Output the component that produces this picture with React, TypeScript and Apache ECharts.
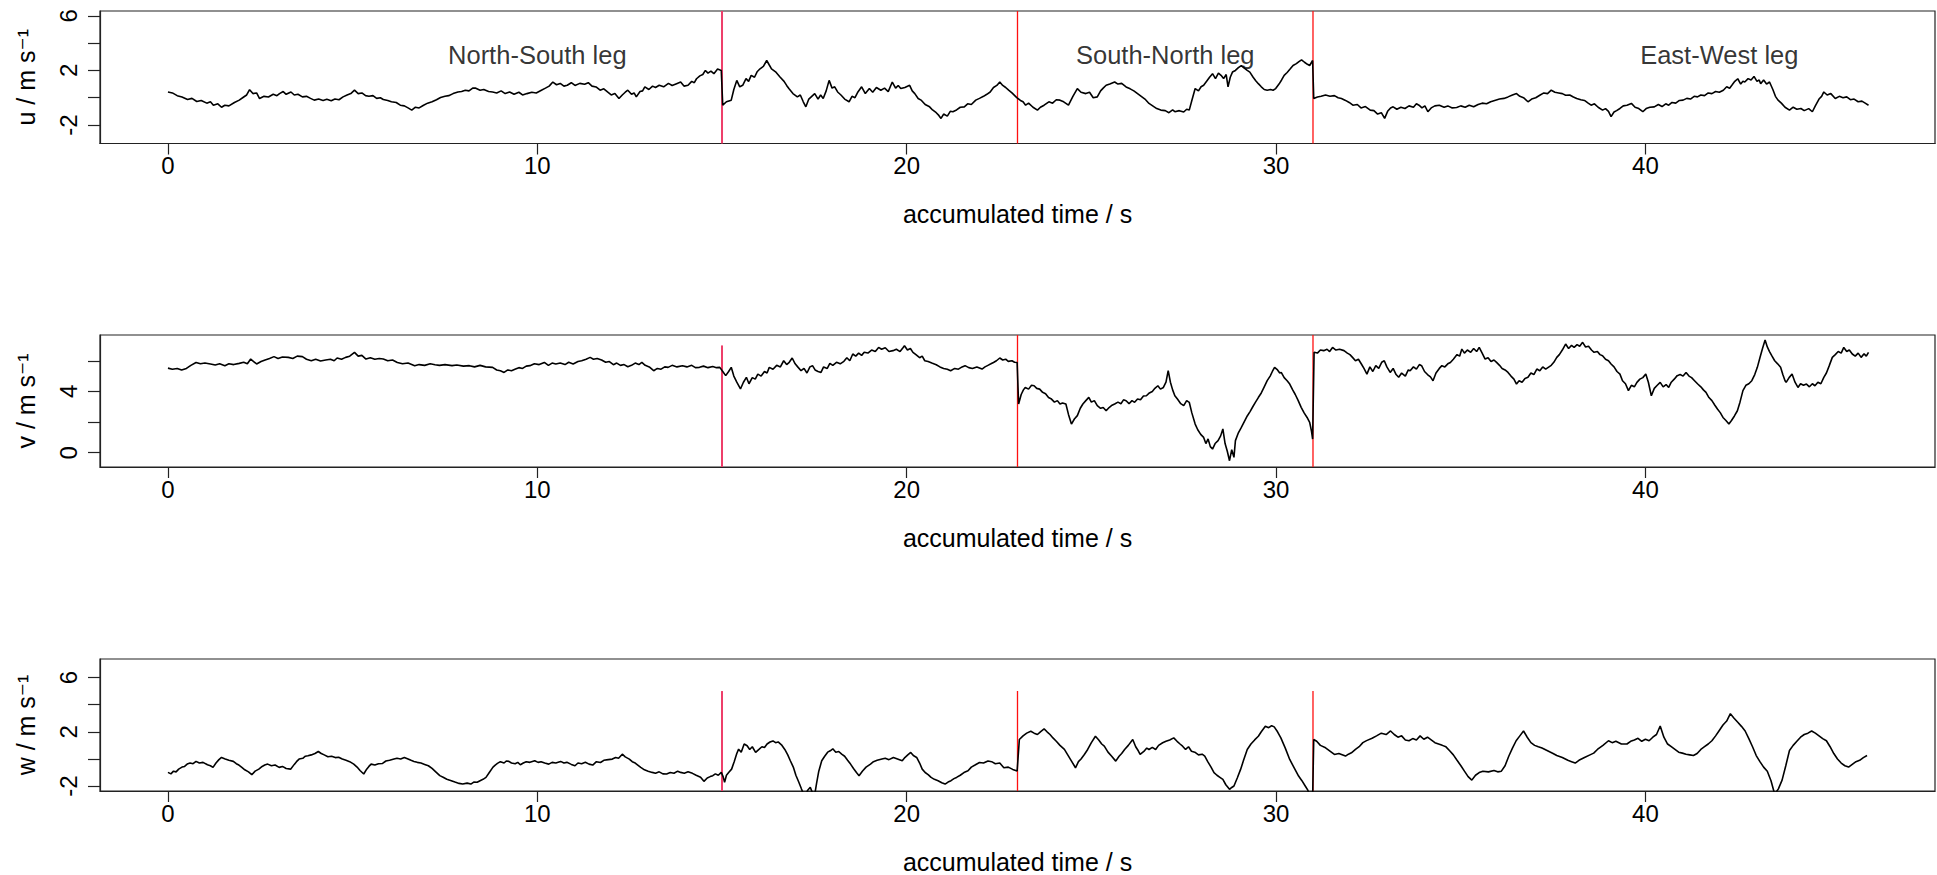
import React, { useEffect, useRef } from "react";
import * as echarts from "echarts";

// ---- data ----
const legBoundaries = [15, 23, 31];
const legNames = ["North-South leg", "South-North leg", "East-West leg"];
const legLabelX = [10, 27, 42];
const legLabelY = 3.15;

const xTicks = [0, 10, 20, 30, 40];
const uTicks = [-2, 0, 2, 4, 6];
const uTickLabels = [-2, 2, 6];
const vTicks = [0, 2, 4, 6];
const vTickLabels = [0, 4];
const wTicks = [-2, 0, 2, 4, 6];
const wTickLabels = [-2, 2, 6];

// [accumulated time (s), u (m/s)]
const uSeries: number[][] = [[0,0.42],[0.12,0.35],[0.25,0.15],[0.38,0.05],[0.53,-0.13],[0.65,-0.05],[0.78,-0.28],[0.9,-0.2],[1.05,-0.4],[1.15,-0.3],[1.23,-0.55],[1.35,-0.45],[1.45,-0.7],[1.54,-0.55],[1.65,-0.6],[1.8,-0.35],[1.93,-0.18],[2.05,0.05],[2.13,0.2],[2.21,0.59],[2.3,0.3],[2.4,0.35],[2.48,-0.06],[2.6,0.1],[2.72,0.05],[2.85,0.25],[2.95,0.15],[3.02,0.3],[3.12,0.45],[3.2,0.25],[3.33,0.42],[3.42,0.2],[3.52,0.25],[3.64,0.06],[3.75,0.1],[3.86,-0.05],[3.96,-0.18],[4.08,-0.1],[4.2,-0.2],[4.3,-0.12],[4.42,-0.23],[4.52,-0.1],[4.63,-0.15],[4.74,0.06],[4.85,0.2],[4.95,0.3],[5.05,0.55],[5.15,0.3],[5.25,0.35],[5.35,0.15],[5.44,0.11],[5.55,0.15],[5.65,-0.05],[5.75,0.0],[5.83,-0.13],[5.95,-0.2],[6.05,-0.3],[6.18,-0.35],[6.29,-0.55],[6.4,-0.6],[6.5,-0.75],[6.6,-0.91],[6.7,-0.7],[6.8,-0.75],[6.92,-0.55],[7.03,-0.4],[7.15,-0.3],[7.27,-0.15],[7.38,0.01],[7.5,0.1],[7.6,0.15],[7.72,0.3],[7.85,0.42],[7.95,0.45],[8.05,0.55],[8.15,0.5],[8.25,0.7],[8.32,0.71],[8.45,0.55],[8.55,0.6],[8.68,0.45],[8.79,0.42],[8.9,0.35],[9.02,0.5],[9.13,0.3],[9.25,0.42],[9.37,0.25],[9.5,0.4],[9.6,0.2],[9.72,0.3],[9.85,0.4],[9.97,0.35],[10.11,0.55],[10.22,0.7],[10.32,0.85],[10.42,1.15],[10.52,0.95],[10.62,1.05],[10.72,0.85],[10.81,0.91],[10.92,1.1],[11.02,0.9],[11.15,1.05],[11.28,0.98],[11.38,1.1],[11.48,0.85],[11.59,0.79],[11.7,0.55],[11.8,0.65],[11.9,0.42],[12.0,0.2],[12.1,0.3],[12.21,-0.06],[12.3,0.2],[12.38,0.4],[12.45,0.55],[12.55,0.25],[12.62,0.35],[12.68,0.06],[12.78,0.45],[12.85,0.5],[12.91,0.79],[13.02,0.6],[13.12,0.85],[13.2,0.75],[13.3,0.91],[13.42,0.8],[13.55,1.05],[13.65,0.9],[13.77,1.03],[13.88,1.15],[13.97,0.85],[14.08,0.91],[14.18,1.2],[14.25,1.1],[14.31,1.39],[14.4,1.6],[14.48,1.7],[14.55,2.0],[14.62,1.8],[14.7,1.95],[14.78,1.76],[14.88,2.1],[14.98,2.0],
[15.02,-0.55],[15.12,-0.3],[15.25,-0.18],[15.32,0.6],[15.4,1.27],[15.48,0.8],[15.56,0.91],[15.65,1.4],[15.72,1.2],[15.79,1.64],[15.88,1.5],[15.95,1.9],[16.03,2.12],[16.12,2.3],[16.21,2.73],[16.28,2.4],[16.34,2.12],[16.45,1.9],[16.57,1.52],[16.68,1.2],[16.75,0.9],[16.81,0.67],[16.92,0.3],[17.04,0.06],[17.12,0.2],[17.2,-0.3],[17.27,-0.67],[17.35,-0.1],[17.43,0.1],[17.51,0.3],[17.6,-0.1],[17.67,0.2],[17.74,-0.06],[17.82,0.5],[17.9,1.27],[17.98,0.7],[18.05,0.8],[18.13,0.42],[18.22,0.2],[18.32,-0.1],[18.44,-0.3],[18.52,0.1],[18.6,0.0],[18.68,0.42],[18.78,0.8],[18.88,0.3],[18.99,0.67],[19.08,0.4],[19.18,0.75],[19.3,0.55],[19.4,0.7],[19.5,0.45],[19.61,1.15],[19.7,0.7],[19.77,0.9],[19.84,0.67],[19.95,0.75],[20.08,0.91],[20.15,0.5],[20.22,0.3],[20.31,-0.06],[20.4,-0.2],[20.5,-0.5],[20.62,-0.67],[20.7,-0.9],[20.8,-1.1],[20.87,-1.3],[20.93,-1.52],[21.0,-1.2],[21.1,-1.35],[21.18,-1.0],[21.25,-1.03],[21.35,-0.9],[21.45,-0.7],[21.56,-0.67],[21.65,-0.45],[21.75,-0.5],[21.87,-0.18],[21.97,-0.05],[22.08,0.1],[22.17,0.25],[22.26,0.42],[22.35,0.75],[22.44,0.9],[22.52,1.15],[22.6,0.9],[22.68,0.75],[22.76,0.55],[22.85,0.35],[22.98,0.01],
[23.08,-0.2],[23.15,-0.3],[23.22,-0.55],[23.3,-0.4],[23.42,-0.7],[23.54,-0.91],[23.62,-0.7],[23.72,-0.55],[23.85,-0.3],[23.95,-0.4],[24.05,-0.15],[24.15,-0.18],[24.25,-0.3],[24.38,-0.55],[24.5,0.1],[24.62,0.67],[24.72,0.4],[24.85,0.3],[24.95,0.4],[25.05,0.0],[25.16,0.06],[25.25,0.5],[25.32,0.7],[25.4,0.91],[25.5,1.0],[25.63,1.15],[25.72,1.0],[25.82,1.05],[25.94,0.79],[26.05,0.65],[26.15,0.5],[26.25,0.3],[26.35,0.1],[26.45,-0.1],[26.56,-0.42],[26.66,-0.6],[26.77,-0.8],[26.88,-0.91],[27.0,-0.95],[27.1,-1.1],[27.2,-0.9],[27.26,-1.03],[27.38,-0.95],[27.5,-1.05],[27.58,-0.85],[27.65,-0.91],[27.72,-0.2],[27.81,0.67],[27.9,0.5],[27.97,0.8],[28.04,0.91],[28.12,1.2],[28.2,1.5],[28.28,1.76],[28.36,1.4],[28.44,1.8],[28.51,1.64],[28.58,1.4],[28.65,1.7],[28.7,0.79],[28.76,1.5],[28.82,1.88],[28.9,2.0],[28.98,2.2],[29.06,2.36],[29.15,2.15],[29.22,2.0],[29.29,1.88],[29.38,1.5],[29.45,1.25],[29.52,1.03],[29.6,0.8],[29.68,0.6],[29.76,0.55],[29.85,0.6],[29.92,0.55],[29.99,0.67],[30.08,1.0],[30.15,1.3],[30.22,1.64],[30.3,1.85],[30.38,2.1],[30.46,2.36],[30.55,2.5],[30.62,2.65],[30.69,2.78],[30.77,2.6],[30.85,2.45],[30.91,2.36],[30.99,2.73],
[31.02,-0.06],[31.12,0.05],[31.22,0.1],[31.34,0.2],[31.46,0.11],[31.58,0.15],[31.68,0.0],[31.77,-0.06],[31.88,-0.2],[31.98,-0.35],[32.08,-0.55],[32.2,-0.5],[32.3,-0.75],[32.42,-0.65],[32.55,-0.91],[32.65,-0.95],[32.75,-1.2],[32.85,-1.1],[32.94,-1.52],[33.02,-1.0],[33.1,-0.75],[33.17,-0.67],[33.27,-0.85],[33.38,-0.7],[33.49,-0.79],[33.6,-0.6],[33.72,-0.7],[33.8,-0.45],[33.87,-0.55],[33.95,-0.75],[34.03,-0.6],[34.11,-1.03],[34.2,-0.75],[34.3,-0.6],[34.42,-0.55],[34.55,-0.7],[34.65,-0.6],[34.77,-0.75],[34.89,-0.72],[35.0,-0.6],[35.12,-0.7],[35.23,-0.55],[35.35,-0.67],[35.47,-0.5],[35.58,-0.4],[35.7,-0.45],[35.81,-0.3],[35.92,-0.2],[36.05,-0.1],[36.17,-0.05],[36.28,0.06],[36.4,0.2],[36.51,0.3],[36.6,0.1],[36.7,0.0],[36.82,-0.3],[36.92,-0.1],[37.03,0.0],[37.14,0.18],[37.25,0.35],[37.35,0.3],[37.45,0.55],[37.55,0.4],[37.65,0.35],[37.75,0.3],[37.84,0.18],[37.95,0.2],[38.05,0.05],[38.14,-0.06],[38.25,-0.15],[38.35,-0.2],[38.45,-0.4],[38.53,-0.55],[38.62,-0.45],[38.72,-0.7],[38.84,-0.91],[38.92,-0.8],[39.0,-1.0],[39.07,-1.39],[39.15,-1.05],[39.22,-0.95],[39.31,-0.79],[39.4,-0.6],[39.5,-0.55],[39.62,-0.42],[39.72,-0.7],[39.82,-0.8],[39.93,-1.03],[40.02,-0.8],[40.12,-0.7],[40.24,-0.67],[40.35,-0.5],[40.45,-0.65],[40.55,-0.45],[40.63,-0.55],[40.72,-0.35],[40.82,-0.4],[40.92,-0.2],[41.02,-0.18],[41.12,-0.05],[41.22,-0.1],[41.32,0.1],[41.41,0.06],[41.5,0.2],[41.6,0.15],[41.7,0.35],[41.8,0.3],[41.9,0.45],[42.0,0.4],[42.11,0.55],[42.2,0.8],[42.28,0.7],[42.34,0.91],[42.42,1.2],[42.5,1.39],[42.58,1.0],[42.64,1.2],[42.69,1.15],[42.78,1.4],[42.86,1.3],[42.94,1.56],[43.02,1.2],[43.08,1.3],[43.12,1.03],[43.2,1.3],[43.28,1.0],[43.36,1.15],[43.45,0.6],[43.52,0.1],[43.59,-0.18],[43.68,-0.4],[43.78,-0.7],[43.9,-0.91],[44.0,-0.7],[44.1,-0.85],[44.21,-0.79],[44.3,-0.95],[44.42,-0.8],[44.52,-1.03],[44.6,-0.6],[44.7,-0.1],[44.77,0.1],[44.83,0.42],[44.92,0.2],[45.02,0.3],[45.14,-0.06],[45.25,0.1],[45.35,0.0],[45.45,0.06],[45.55,-0.15],[45.65,-0.1],[45.76,-0.3],[45.86,-0.25],[45.95,-0.4],[46.04,-0.55]];

// [accumulated time (s), v (m/s)]
const vSeries: number[][] = [[0,5.52],[0.12,5.45],[0.25,5.5],[0.37,5.39],[0.5,5.5],[0.62,5.7],[0.76,5.89],[0.88,5.8],[1.0,5.85],[1.15,5.79],[1.28,5.72],[1.4,5.8],[1.54,5.68],[1.65,5.8],[1.78,5.75],[1.93,5.83],[2.05,5.9],[2.15,5.8],[2.24,6.11],[2.32,5.95],[2.4,5.79],[2.52,5.95],[2.63,6.05],[2.75,6.15],[2.87,6.27],[2.98,6.15],[3.1,6.25],[3.26,6.22],[3.38,6.15],[3.5,6.3],[3.64,6.27],[3.75,6.1],[3.88,6.0],[4.0,6.1],[4.13,5.98],[4.27,6.05],[4.4,6.1],[4.5,6.0],[4.58,6.18],[4.7,6.1],[4.81,6.22],[4.92,6.3],[5.05,6.55],[5.15,6.3],[5.25,6.35],[5.36,6.11],[5.48,6.2],[5.6,6.1],[5.72,6.15],[5.83,6.11],[5.95,6.0],[6.08,6.05],[6.21,5.89],[6.35,5.8],[6.5,5.85],[6.68,5.68],[6.8,5.75],[6.95,5.7],[7.1,5.8],[7.23,5.74],[7.35,5.7],[7.5,5.75],[7.69,5.68],[7.82,5.72],[8.0,5.65],[8.16,5.68],[8.3,5.6],[8.45,5.7],[8.6,5.6],[8.79,5.57],[8.9,5.4],[9.0,5.35],[9.1,5.24],[9.2,5.4],[9.3,5.35],[9.41,5.46],[9.5,5.55],[9.6,5.5],[9.7,5.65],[9.8,5.68],[9.92,5.8],[10.05,5.75],[10.19,5.89],[10.3,5.7],[10.4,5.85],[10.5,5.79],[10.62,5.85],[10.75,5.75],[10.85,5.9],[10.97,5.79],[11.1,5.95],[11.2,6.0],[11.32,6.1],[11.43,6.22],[11.52,6.1],[11.62,6.15],[11.74,6.05],[11.85,5.9],[11.95,5.95],[12.06,5.74],[12.15,5.85],[12.25,5.7],[12.35,5.75],[12.45,5.61],[12.55,5.7],[12.65,5.85],[12.75,5.75],[12.83,5.89],[12.92,5.7],[13.03,5.6],[13.15,5.35],[13.25,5.5],[13.35,5.45],[13.45,5.6],[13.54,5.57],[13.65,5.7],[13.78,5.6],[13.93,5.68],[14.05,5.6],[14.18,5.7],[14.28,5.55],[14.39,5.57],[14.5,5.65],[14.62,5.55],[14.75,5.62],[14.85,5.55],[14.94,5.57],
[15.02,5.3],[15.1,5.03],[15.18,5.3],[15.25,5.57],[15.32,5.0],[15.4,4.6],[15.5,4.16],[15.58,4.6],[15.66,4.92],[15.73,4.5],[15.82,4.9],[15.9,4.8],[15.97,5.13],[16.06,5.0],[16.15,5.3],[16.22,5.2],[16.28,5.57],[16.38,5.45],[16.48,5.7],[16.58,5.6],[16.67,6.0],[16.75,5.75],[16.82,5.9],[16.9,6.18],[16.98,5.8],[17.05,5.6],[17.14,5.35],[17.22,5.5],[17.3,5.2],[17.38,5.6],[17.45,5.68],[17.52,5.4],[17.6,5.3],[17.68,5.24],[17.75,5.6],[17.85,5.5],[17.92,5.83],[18.0,5.7],[18.1,5.9],[18.2,5.8],[18.3,5.96],[18.38,6.2],[18.46,6.0],[18.54,6.44],[18.62,6.3],[18.7,6.5],[18.78,6.35],[18.85,6.55],[18.95,6.5],[19.05,6.7],[19.15,6.6],[19.24,6.87],[19.32,6.75],[19.42,6.85],[19.52,6.6],[19.63,6.66],[19.72,6.75],[19.82,6.6],[19.9,6.85],[19.94,6.98],[20.02,6.7],[20.1,6.8],[20.17,6.55],[20.25,6.4],[20.35,6.2],[20.42,6.3],[20.49,6.0],[20.58,5.95],[20.68,5.85],[20.8,5.74],[20.9,5.6],[21.0,5.5],[21.1,5.45],[21.19,5.35],[21.3,5.5],[21.4,5.45],[21.5,5.6],[21.58,5.68],[21.68,5.55],[21.78,5.5],[21.9,5.6],[22.04,5.46],[22.12,5.6],[22.2,5.7],[22.28,5.8],[22.35,5.89],[22.43,6.0],[22.52,6.18],[22.6,6.05],[22.68,6.1],[22.75,5.96],[22.85,6.0],[22.92,5.9],[22.99,5.89],
[23.03,3.18],[23.1,3.8],[23.16,4.1],[23.21,4.26],[23.3,4.15],[23.38,4.4],[23.45,4.37],[23.52,4.2],[23.6,4.15],[23.68,3.94],[23.76,3.85],[23.84,3.6],[23.92,3.5],[24.0,3.3],[24.08,3.4],[24.15,3.18],[24.22,3.25],[24.31,3.18],[24.38,2.5],[24.46,1.87],[24.54,2.2],[24.62,2.42],[24.7,2.9],[24.77,3.18],[24.85,3.4],[24.93,3.61],[25.0,3.3],[25.08,3.4],[25.16,3.07],[25.25,2.9],[25.32,2.95],[25.4,2.74],[25.48,2.95],[25.56,3.1],[25.63,3.18],[25.72,3.3],[25.8,3.2],[25.87,3.45],[25.94,3.39],[26.02,3.2],[26.1,3.4],[26.17,3.29],[26.25,3.5],[26.33,3.45],[26.41,3.7],[26.49,3.72],[26.57,3.9],[26.65,4.0],[26.72,4.2],[26.8,4.37],[26.87,4.15],[26.95,4.26],[27.02,4.6],[27.08,5.35],[27.14,4.6],[27.2,4.1],[27.26,3.72],[27.33,3.5],[27.42,3.2],[27.5,3.07],[27.58,3.4],[27.65,3.29],[27.72,2.6],[27.81,1.87],[27.88,1.5],[27.96,1.2],[28.04,1.0],[28.1,0.6],[28.16,0.9],[28.22,0.4],[28.28,0.24],[28.35,0.6],[28.43,0.79],[28.5,1.1],[28.56,1.55],[28.62,0.6],[28.68,0.1],[28.74,-0.52],[28.8,0.2],[28.86,-0.3],[28.9,0.79],[28.98,1.3],[29.05,1.6],[29.13,1.98],[29.22,2.4],[29.3,2.7],[29.37,3.0],[29.44,3.29],[29.52,3.6],[29.6,3.9],[29.68,4.3],[29.76,4.7],[29.84,5.0],[29.9,5.3],[29.96,5.57],[30.04,5.4],[30.1,5.2],[30.14,5.24],[30.22,4.9],[30.3,4.7],[30.37,4.48],[30.45,4.1],[30.52,3.8],[30.6,3.4],[30.68,2.96],[30.76,2.6],[30.84,2.3],[30.91,1.98],[30.96,1.4],[30.99,0.89],
[31.03,6.55],[31.12,6.5],[31.2,6.7],[31.29,6.66],[31.38,6.75],[31.45,6.6],[31.53,6.87],[31.62,6.7],[31.72,6.75],[31.84,6.66],[31.93,6.5],[32.0,6.4],[32.07,6.22],[32.15,6.0],[32.23,6.1],[32.31,5.79],[32.38,5.5],[32.46,5.13],[32.54,5.6],[32.62,5.3],[32.7,5.68],[32.78,5.5],[32.86,5.9],[32.93,6.0],[33.0,5.6],[33.09,5.24],[33.17,5.5],[33.25,5.1],[33.32,4.92],[33.4,5.2],[33.5,5.0],[33.58,5.4],[33.63,5.35],[33.72,5.6],[33.8,5.45],[33.88,5.75],[33.94,5.68],[34.02,5.3],[34.1,5.1],[34.18,4.95],[34.25,4.7],[34.33,5.2],[34.42,5.5],[34.49,5.68],[34.57,5.6],[34.65,5.8],[34.72,5.89],[34.8,6.1],[34.9,6.4],[34.97,6.3],[35.03,6.76],[35.1,6.5],[35.18,6.7],[35.27,6.55],[35.35,6.8],[35.43,6.6],[35.5,6.87],[35.58,6.5],[35.66,6.11],[35.74,6.2],[35.82,5.95],[35.9,6.05],[35.97,5.89],[36.05,5.7],[36.12,5.5],[36.2,5.4],[36.28,5.24],[36.36,5.0],[36.44,4.8],[36.51,4.48],[36.58,4.7],[36.66,4.6],[36.74,4.85],[36.82,4.92],[36.9,5.2],[36.98,5.1],[37.06,5.46],[37.14,5.35],[37.22,5.6],[37.3,5.45],[37.37,5.57],[37.45,5.7],[37.52,5.9],[37.6,6.22],[37.67,6.4],[37.75,6.7],[37.84,7.09],[37.92,6.8],[38.0,7.0],[38.07,6.87],[38.15,7.05],[38.22,6.95],[38.3,7.2],[38.38,6.9],[38.46,6.95],[38.54,6.7],[38.61,6.55],[38.7,6.6],[38.77,6.4],[38.84,6.33],[38.92,6.1],[39.0,6.0],[39.07,5.79],[39.15,5.6],[39.23,5.3],[39.31,5.13],[39.38,4.7],[39.46,4.5],[39.54,4.05],[39.62,4.4],[39.7,4.3],[39.77,4.59],[39.85,4.8],[39.93,4.9],[40.01,5.13],[40.08,4.6],[40.16,3.72],[40.24,4.2],[40.32,4.4],[40.4,4.59],[40.48,4.3],[40.56,4.45],[40.63,4.26],[40.7,4.6],[40.78,4.8],[40.86,5.03],[40.94,5.1],[41.02,5.0],[41.1,5.24],[41.18,5.0],[41.25,4.9],[41.33,4.7],[41.41,4.5],[41.5,4.3],[41.57,4.1],[41.64,3.94],[41.72,3.6],[41.8,3.4],[41.88,3.1],[41.95,2.85],[42.03,2.6],[42.1,2.3],[42.18,2.1],[42.26,1.87],[42.33,2.1],[42.41,2.4],[42.49,2.74],[42.56,3.3],[42.64,4.05],[42.72,4.4],[42.8,4.5],[42.88,4.7],[42.96,5.1],[43.03,5.57],[43.1,6.2],[43.17,6.8],[43.24,7.35],[43.3,6.9],[43.36,6.6],[43.42,6.33],[43.5,6.0],[43.58,5.8],[43.66,5.57],[43.72,5.1],[43.78,4.7],[43.81,4.59],[43.89,4.9],[43.97,5.13],[44.05,4.6],[44.13,4.26],[44.2,4.5],[44.28,4.4],[44.36,4.48],[44.44,4.3],[44.52,4.5],[44.59,4.37],[44.67,4.6],[44.75,4.5],[44.83,4.92],[44.9,5.2],[44.98,5.7],[45.06,6.22],[45.14,6.4],[45.22,6.6],[45.3,6.5],[45.37,6.87],[45.45,6.6],[45.52,6.7],[45.6,6.44],[45.68,6.3],[45.76,6.5],[45.84,6.22],[45.92,6.45],[45.98,6.3],[46.04,6.55]];

// [accumulated time (s), w (m/s)]
const wSeries: number[][] = [[0,-0.99],[0.08,-1.1],[0.15,-0.9],[0.22,-0.95],[0.29,-0.75],[0.38,-0.6],[0.45,-0.55],[0.52,-0.38],[0.6,-0.3],[0.68,-0.35],[0.76,-0.18],[0.85,-0.3],[0.95,-0.25],[1.07,-0.43],[1.15,-0.5],[1.22,-0.62],[1.3,-0.3],[1.38,-0.05],[1.45,0.11],[1.55,0.0],[1.65,-0.1],[1.77,-0.18],[1.85,-0.35],[1.92,-0.45],[2.0,-0.62],[2.08,-0.8],[2.18,-0.95],[2.27,-1.16],[2.36,-0.9],[2.46,-0.75],[2.55,-0.55],[2.62,-0.45],[2.7,-0.38],[2.8,-0.5],[2.9,-0.45],[3.01,-0.62],[3.1,-0.55],[3.2,-0.7],[3.32,-0.75],[3.42,-0.4],[3.48,-0.2],[3.55,-0.01],[3.65,0.05],[3.72,0.2],[3.79,0.23],[3.88,0.3],[3.98,0.4],[4.07,0.55],[4.15,0.4],[4.23,0.3],[4.33,0.16],[4.43,0.2],[4.53,0.1],[4.62,0.12],[4.72,-0.01],[4.82,-0.1],[4.92,-0.2],[5.03,-0.38],[5.12,-0.6],[5.2,-0.85],[5.3,-1.11],[5.38,-0.75],[5.44,-0.55],[5.5,-0.38],[5.6,-0.45],[5.7,-0.35],[5.81,-0.33],[5.9,-0.15],[6.0,-0.1],[6.12,-0.01],[6.2,0.05],[6.3,0.0],[6.4,0.11],[6.5,0.0],[6.58,-0.1],[6.66,-0.18],[6.75,-0.25],[6.85,-0.3],[6.95,-0.4],[7.05,-0.5],[7.15,-0.7],[7.25,-0.95],[7.36,-1.23],[7.45,-1.35],[7.55,-1.5],[7.67,-1.6],[7.77,-1.7],[7.88,-1.8],[7.98,-1.85],[8.1,-1.78],[8.2,-1.85],[8.28,-1.7],[8.37,-1.72],[8.45,-1.6],[8.53,-1.5],[8.61,-1.36],[8.7,-1.0],[8.8,-0.6],[8.86,-0.45],[8.92,-0.33],[9.0,-0.2],[9.1,-0.3],[9.16,-0.15],[9.23,-0.18],[9.3,-0.3],[9.4,-0.35],[9.47,-0.25],[9.54,-0.43],[9.62,-0.3],[9.7,-0.2],[9.8,-0.25],[9.93,-0.13],[10.02,-0.25],[10.1,-0.2],[10.2,-0.3],[10.31,-0.38],[10.4,-0.25],[10.5,-0.3],[10.63,-0.18],[10.72,-0.3],[10.8,-0.25],[10.92,-0.4],[11.02,-0.5],[11.1,-0.3],[11.2,-0.35],[11.3,-0.25],[11.4,-0.38],[11.5,-0.45],[11.6,-0.2],[11.71,-0.26],[11.8,-0.1],[11.92,-0.05],[12.03,-0.01],[12.12,0.1],[12.2,0.05],[12.3,0.35],[12.38,0.15],[12.49,-0.01],[12.57,-0.2],[12.65,-0.3],[12.72,-0.45],[12.8,-0.62],[12.9,-0.8],[13.0,-0.9],[13.11,-0.99],[13.2,-1.05],[13.3,-0.95],[13.4,-1.1],[13.5,-1.11],[13.6,-1.0],[13.7,-1.05],[13.8,-0.9],[13.88,-0.99],[13.98,-1.05],[14.08,-0.95],[14.2,-1.06],[14.3,-1.2],[14.42,-1.35],[14.51,-1.65],[14.6,-1.4],[14.68,-1.3],[14.75,-1.23],[14.82,-1.1],[14.9,-1.2],[14.98,-0.99],
[15.03,-1.3],[15.07,-1.72],[15.12,-1.2],[15.18,-1.0],[15.26,-0.75],[15.33,-0.2],[15.4,0.4],[15.45,0.72],[15.52,0.5],[15.6,1.1],[15.68,0.97],[15.75,0.7],[15.82,0.9],[15.91,0.48],[16.0,0.7],[16.08,0.9],[16.15,0.84],[16.22,1.1],[16.3,1.25],[16.38,1.33],[16.45,1.2],[16.52,1.25],[16.61,1.04],[16.7,0.7],[16.78,0.3],[16.85,-0.13],[16.93,-0.6],[17.0,-1.2],[17.08,-1.72],[17.15,-2.2],[17.24,-2.8],[17.32,-2.3],[17.39,-2.09],[17.45,-2.5],[17.5,-2.8],[17.56,-1.8],[17.62,-0.9],[17.7,-0.13],[17.78,0.2],[17.86,0.5],[17.93,0.6],[18.0,0.75],[18.08,0.5],[18.16,0.55],[18.24,0.35],[18.32,0.2],[18.4,-0.1],[18.48,-0.38],[18.56,-0.7],[18.64,-1.0],[18.71,-1.23],[18.8,-0.9],[18.9,-0.6],[19.02,-0.38],[19.1,-0.2],[19.2,-0.1],[19.33,-0.01],[19.42,0.05],[19.52,-0.05],[19.64,0.11],[19.75,0.0],[19.88,-0.13],[19.95,0.1],[20.03,0.3],[20.11,0.48],[20.18,0.25],[20.27,0.11],[20.35,-0.3],[20.42,-0.75],[20.5,-1.0],[20.58,-1.15],[20.66,-1.36],[20.75,-1.5],[20.85,-1.6],[20.95,-1.75],[21.04,-1.85],[21.12,-1.7],[21.2,-1.6],[21.28,-1.45],[21.35,-1.36],[21.45,-1.2],[21.55,-1.0],[21.66,-0.87],[21.75,-0.6],[21.85,-0.45],[21.97,-0.26],[22.08,-0.3],[22.2,-0.15],[22.3,-0.2],[22.4,-0.35],[22.52,-0.3],[22.63,-0.65],[22.75,-0.6],[22.87,-0.77],[22.99,-0.89],
[23.05,1.43],[23.15,1.7],[23.25,1.9],[23.36,2.04],[23.45,1.9],[23.54,1.8],[23.62,2.0],[23.72,2.21],[23.8,2.0],[23.88,1.8],[23.96,1.55],[24.05,1.3],[24.15,1.0],[24.27,0.7],[24.36,0.3],[24.45,-0.1],[24.57,-0.65],[24.65,-0.2],[24.72,0.0],[24.81,0.33],[24.9,0.7],[25.0,1.2],[25.11,1.67],[25.2,1.4],[25.28,1.1],[25.35,0.94],[25.45,0.5],[25.55,0.2],[25.66,-0.16],[25.75,0.2],[25.82,0.4],[25.9,0.7],[26.0,1.0],[26.12,1.43],[26.2,0.9],[26.27,0.6],[26.32,0.33],[26.42,0.55],[26.5,0.8],[26.56,0.7],[26.65,0.85],[26.74,0.7],[26.82,1.0],[26.93,1.19],[27.02,1.3],[27.12,1.4],[27.23,1.55],[27.32,1.3],[27.4,1.1],[27.47,0.94],[27.55,0.7],[27.63,0.9],[27.71,0.57],[27.8,0.5],[27.9,0.3],[28.0,0.35],[28.07,0.21],[28.15,-0.2],[28.24,-0.6],[28.32,-1.01],[28.4,-1.2],[28.48,-1.35],[28.56,-1.5],[28.64,-1.9],[28.74,-2.24],[28.8,-2.1],[28.86,-1.99],[28.95,-1.4],[29.04,-0.77],[29.12,-0.1],[29.22,0.7],[29.32,1.1],[29.42,1.4],[29.52,1.67],[29.6,2.0],[29.71,2.41],[29.8,2.3],[29.88,2.45],[29.95,2.36],[30.04,2.0],[30.13,1.55],[30.25,0.8],[30.37,-0.04],[30.48,-0.6],[30.61,-1.26],[30.7,-1.6],[30.79,-1.99],[30.86,-2.3],[30.92,-2.7],[30.99,-2.9],
[31.02,1.43],[31.1,1.3],[31.2,1.0],[31.34,0.82],[31.45,0.6],[31.58,0.33],[31.7,0.4],[31.88,0.21],[31.96,0.35],[32.04,0.45],[32.15,0.7],[32.25,0.9],[32.35,1.2],[32.45,1.35],[32.6,1.52],[32.72,1.7],[32.85,1.9],[32.98,1.8],[33.1,2.06],[33.2,1.8],[33.3,1.6],[33.4,1.7],[33.5,1.4],[33.6,1.34],[33.7,1.5],[33.8,1.4],[33.9,1.7],[34.0,1.45],[34.1,1.6],[34.2,1.4],[34.3,1.2],[34.4,1.1],[34.5,1.0],[34.6,0.89],[34.7,0.6],[34.8,0.3],[34.9,-0.1],[35.0,-0.48],[35.1,-0.9],[35.2,-1.3],[35.3,-1.56],[35.4,-1.2],[35.5,-1.0],[35.6,-0.9],[35.75,-0.95],[35.9,-0.85],[36.0,-0.95],[36.1,-0.9],[36.2,-0.5],[36.3,0.2],[36.4,0.8],[36.5,1.34],[36.6,1.7],[36.7,2.06],[36.8,1.6],[36.9,1.2],[37.0,1.0],[37.1,0.89],[37.2,0.8],[37.35,0.6],[37.5,0.4],[37.6,0.25],[37.75,0.1],[37.9,-0.1],[38.0,-0.2],[38.1,-0.3],[38.2,-0.1],[38.35,0.1],[38.5,0.3],[38.6,0.43],[38.7,0.7],[38.85,1.0],[39.0,1.34],[39.1,1.2],[39.2,1.3],[39.35,1.1],[39.5,1.1],[39.6,1.3],[39.7,1.4],[39.8,1.52],[39.9,1.3],[40.0,1.45],[40.1,1.34],[40.2,1.6],[40.3,1.8],[40.4,2.43],[40.5,1.6],[40.6,1.1],[40.7,0.9],[40.8,0.7],[40.9,0.5],[41.0,0.43],[41.1,0.35],[41.2,0.3],[41.3,0.25],[41.4,0.4],[41.5,0.7],[41.6,0.9],[41.7,1.1],[41.8,1.34],[41.9,1.7],[42.0,2.1],[42.1,2.5],[42.2,2.79],[42.3,3.33],[42.4,3.0],[42.5,2.7],[42.6,2.4],[42.7,2.06],[42.8,1.5],[42.9,0.9],[43.0,0.25],[43.1,-0.2],[43.2,-0.6],[43.3,-0.9],[43.4,-1.6],[43.5,-2.6],[43.6,-2.2],[43.7,-1.56],[43.8,-0.5],[43.9,0.62],[44.0,1.0],[44.1,1.3],[44.2,1.6],[44.3,1.8],[44.4,1.9],[44.5,2.06],[44.6,1.9],[44.7,1.7],[44.8,1.5],[44.9,1.34],[45.0,0.9],[45.1,0.4],[45.2,0.0],[45.3,-0.3],[45.4,-0.5],[45.5,-0.6],[45.6,-0.4],[45.7,-0.2],[45.8,-0.1],[45.9,0.1],[46.0,0.25]];

const FONT = "'Liberation Sans', Arial, Helvetica, 'DejaVu Sans', sans-serif";

export default function App() {
  const ref = useRef<HTMLDivElement>(null);
  useEffect(() => {
    if (!ref.current) return;
    const chart = echarts.init(ref.current, null, { renderer: "svg" });

    const panels = [
      { name: "u / m s\u207B\u00B9", data: uSeries, min: -3.36, max: 6.36, ticks: uTicks, labels: uTickLabels, top: 11, height: 132.5, redTop: [6.36, 6.36, 6.36] },
      { name: "v / m s\u207B\u00B9", data: vSeries, min: -0.93, max: 7.68, ticks: vTicks, labels: vTickLabels, top: 335, height: 132, redTop: [7.0, 7.68, 7.68] },
      { name: "w / m s\u207B\u00B9", data: wSeries, min: -2.36, max: 7.36, ticks: wTicks, labels: wTickLabels, top: 659, height: 132.7, redTop: [5, 5, 5] },
    ];

    const grid = panels.map((p) => ({
      left: 100, top: p.top, width: 1835, height: p.height,
      show: true, borderColor: "#222", borderWidth: 1.2, backgroundColor: "transparent",
    }));

    const xAxis = panels.map((_, i) => ({
      type: "value", gridIndex: i, min: -1.84, max: 47.84,
      name: "accumulated time / s", nameLocation: "middle", nameGap: 58,
      nameTextStyle: { fontSize: 25, color: "#000", fontFamily: FONT },
      axisLine: { show: true, onZero: false, lineStyle: { color: "#222", width: 1.2 } },
      axisTick: { show: true, length: 11, customValues: xTicks, lineStyle: { color: "#222", width: 1.2 } },
      axisLabel: { show: true, customValues: xTicks, margin: 10, fontSize: 24, color: "#000", fontFamily: FONT },
      splitLine: { show: false },
    }));

    const yAxis = panels.map((p, i) => ({
      type: "value", gridIndex: i, min: p.min, max: p.max,
      name: p.name, nameLocation: "middle", nameRotate: 90, nameGap: 62,
      nameTextStyle: { fontSize: 25, color: "#000", fontFamily: FONT },
      axisLine: { show: true, onZero: false, lineStyle: { color: "#222", width: 1.2 } },
      axisTick: { show: true, length: 12, customValues: p.ticks, lineStyle: { color: "#222", width: 1.2 } },
      axisLabel: { show: true, customValues: p.labels, rotate: 90, margin: 20, fontSize: 24, color: "#000", fontFamily: FONT },
      splitLine: { show: false },
    }));

    const series: any[] = [];
    panels.forEach((p, i) => {
      legBoundaries.forEach((b, k) => {
        series.push({
          type: "line", xAxisIndex: i, yAxisIndex: i, showSymbol: false, silent: true,
          data: [[b, p.min], [b, p.redTop[k]]],
          lineStyle: { color: k === 0 ? "#ee3f6a" : "#ff1010", width: k === 0 ? 2 : 1.3 },
          z: 2,
        });
      });
      series.push({
        type: "line", xAxisIndex: i, yAxisIndex: i, showSymbol: false, silent: true,
        data: p.data, clip: true,
        lineStyle: { color: "#000", width: 1.6 },
        z: 3,
      });
    });
    series.push({
      type: "scatter", xAxisIndex: 0, yAxisIndex: 0, symbolSize: 0, silent: true,
      data: legNames.map((n, k) => ({ name: n, value: [legLabelX[k], legLabelY] })),
      label: { show: true, position: "inside", formatter: (q: any) => q.name, fontSize: 25.5, color: "#000", fontFamily: FONT },
      z: 4,
    });

    chart.setOption({
      animation: false,
      backgroundColor: "#fff",
      textStyle: { fontFamily: FONT },
      grid, xAxis, yAxis, series,
    });
    return () => chart.dispose();
  }, []);
  return <div ref={ref} style={{ position: "fixed", left: 0, top: 0, width: 1937, height: 875 }} />;
}
